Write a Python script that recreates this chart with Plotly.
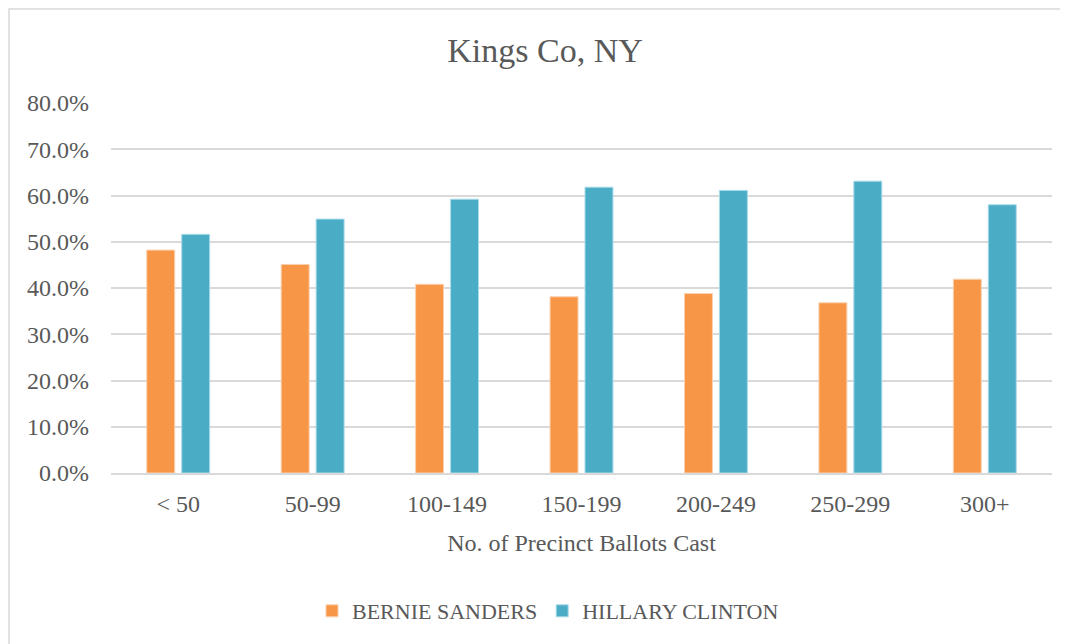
import plotly.graph_objects as go

categories = ["< 50", "50-99", "100-149", "150-199", "200-249", "250-299", "300+"]
sanders = [0.482, 0.451, 0.408, 0.381, 0.388, 0.368, 0.419]
clinton = [0.516, 0.549, 0.592, 0.618, 0.611, 0.631, 0.580]
series_names = ["BERNIE SANDERS", "HILLARY CLINTON"]
y_ticks = [0.0, 0.1, 0.2, 0.3, 0.4, 0.5, 0.6, 0.7, 0.8]

FONT = "Liberation Serif"
TXT = "#595959"
GRID = "#d9d9d9"

# the page body adds an 8px offset; work in window pixels and shift
OFF = 8
W, H = 1068 - OFF, 644 - OFF
L = 111 - OFF
T = 103 - OFF
R = W - (1052 - OFF)
B = H - (473 - OFF)
pw, ph = W - L - R, H - T - B


def px_x(x):
    return (x - OFF - L) / pw


def px_y(y):
    return (H - B - (y - OFF)) / ph


fig = go.Figure()
fig.add_trace(go.Bar(x=categories, y=sanders, name=series_names[0],
                     marker=dict(color="#F79646", line=dict(color="#fbd0ae", width=1))))
fig.add_trace(go.Bar(x=categories, y=clinton, name=series_names[1],
                     marker=dict(color="#4BACC6", line=dict(color="#a9dbe8", width=1))))

fig.update_layout(
    width=W, height=H,
    margin=dict(l=L, r=R, t=T, b=B),
    paper_bgcolor="white", plot_bgcolor="white",
    barmode="group", bargap=0.48, bargroupgap=0.2,
    font=dict(family=FONT, color=TXT, size=24),
    title=dict(text="Kings Co, NY", x=(545 - OFF) / W, xanchor="center",
               y=1 - (50 - OFF) / H, yanchor="middle",
               font=dict(family=FONT, size=34, color=TXT)),
    showlegend=True,
    legend=dict(orientation="h", x=px_x(548), xanchor="center",
                y=px_y(611), yanchor="middle",
                font=dict(family=FONT, size=22, color=TXT),
                itemwidth=30, bgcolor="rgba(0,0,0,0)"),
    hovermode=False,
)
fig.update_yaxes(range=[0, 0.8], tickvals=y_ticks, tickformat=".1%",
                 showgrid=True, gridcolor=GRID, gridwidth=1.5,
                 zeroline=False, showline=False, ticks="",
                 ticklabelstandoff=21,
                 tickfont=dict(family=FONT, size=24, color=TXT))
fig.update_xaxes(showgrid=False, showline=True, linecolor=GRID, linewidth=1.5,
                 ticks="", ticklabelstandoff=8,
                 tickfont=dict(family=FONT, size=24, color=TXT),
                 title=dict(text="No. of Precinct Ballots Cast", standoff=19,
                            font=dict(family=FONT, size=24, color=TXT)))

fig.add_shape(type="rect", xref="paper", yref="paper",
              x0=px_x(OFF + 1), x1=px_x(1080), y0=px_y(660), y1=px_y(OFF + 1),
              line=dict(color=GRID, width=1.5), fillcolor="rgba(0,0,0,0)",
              layer="below")

fig.write_html("out.html")
